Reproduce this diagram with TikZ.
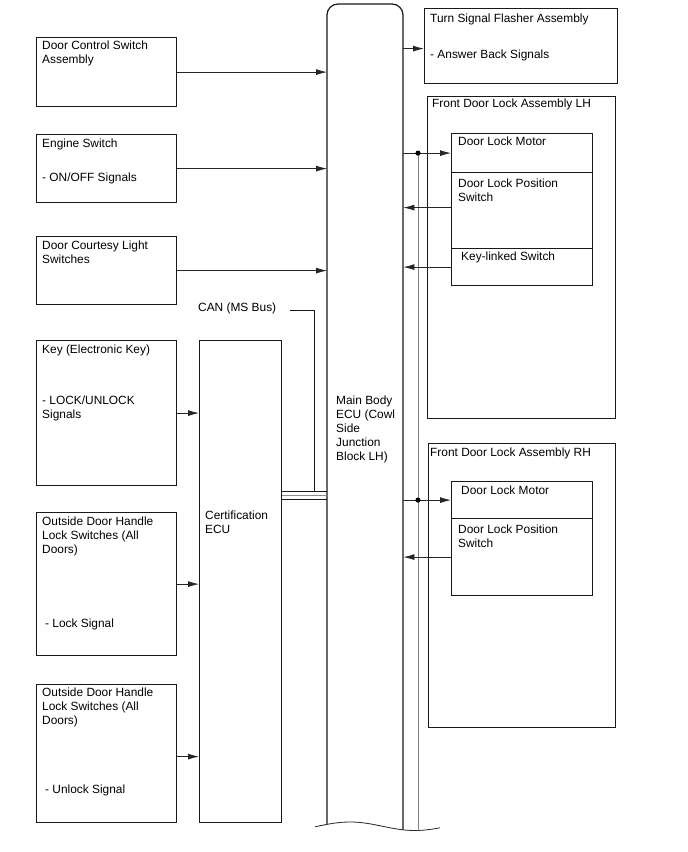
\documentclass[tikz,border=0pt]{standalone}
\usepackage{fontspec}
\setmainfont{Liberation Sans}
\usetikzlibrary{arrows.meta}
\begin{document}
\begin{tikzpicture}[x=1pt,y=-1pt,
  box/.style={draw=black!90, line width=1.2pt, inner sep=0pt, anchor=north west, fill=none},
  txt/.style={anchor=north west, inner sep=0pt, align=left, font=\fontsize{11.9}{14.2}\selectfont, yshift=1pt},
  conn/.style={draw=black!85, line width=0.8pt},
  arr/.style={conn, -{Latex[length=11pt,width=6pt]}},
  busline/.style={draw=black!45, line width=0.8pt},
]
\useasboundingbox[fill=white] (0,0) rectangle (688,852);

% ---------- left boxes ----------
\node[box, minimum width=140pt, minimum height=69pt] (dcs) at (36,37) {};
\node[box, minimum width=140pt, minimum height=68pt] (eng) at (36,134) {};
\node[box, minimum width=140pt, minimum height=68pt] (dcl) at (36,236) {};
\node[box, minimum width=140pt, minimum height=145pt] (key) at (36,340) {};
\node[box, minimum width=140pt, minimum height=143pt] (odh1) at (36,512) {};
\node[box, minimum width=140pt, minimum height=138pt] (odh2) at (36,684) {};
\node[box, minimum width=82pt, minimum height=482pt] (cert) at (199,340) {};

% ---------- right boxes ----------
\node[box, minimum width=193pt, minimum height=75pt] (turn) at (424,8) {};
\node[box, minimum width=188pt, minimum height=322pt] (lh) at (427,96) {};
\node[box, minimum width=141pt, minimum height=39pt] (lhm) at (451,133) {};
\node[box, minimum width=141pt, minimum height=76pt] (lhp) at (451,172) {};
\node[box, minimum width=141pt, minimum height=37pt] (lhk) at (451,248) {};
\node[box, minimum width=187pt, minimum height=284pt] (rh) at (428,443) {};
\node[box, minimum width=141pt, minimum height=37pt] (rhm) at (451,481) {};
\node[box, minimum width=141pt, minimum height=77pt] (rhp) at (451,518) {};

% ---------- main body ECU (rounded top, wavy bottom) ----------
\node[inner sep=0pt, minimum width=76pt, minimum height=826pt, anchor=north west] (ecu) at (327,4) {};
\draw[draw=black!90, line width=1.2pt, rounded corners=11pt] (327,824.4) -- (327,4) -- (403,4) -- (403,829.8);
\draw[conn] plot[domain=315:440, samples=80, smooth] (\x, {826.25-4.25*cos(180*(\x-350)/65)});

% ---------- texts ----------
\node[txt] (t1) at (42,41.5) {Door Control Switch\\Assembly};
\node[txt] (t2) at (42,139.5) {Engine Switch};
\node[txt] (t2b) at (42,173.5) {- ON/OFF Signals};
\node[txt] (t3) at (42,241.5) {Door Courtesy Light\\Switches};
\node[txt] (t4) at (42,345.5) {Key (Electronic Key)};
\node[txt] (t4b) at (42,396.5) {- LOCK/UNLOCK\\Signals};
\node[txt] (t5) at (42,517.5) {Outside Door Handle\\Lock Switches (All\\Doors)};
\node[txt] (t5b) at (45,619.5) {- Lock Signal};
\node[txt] (t6) at (42,688.5) {Outside Door Handle\\Lock Switches (All\\Doors)};
\node[txt] (t6b) at (45,785.5) {- Unlock Signal};
\node[txt] (tc) at (205,511.5) {Certification\\ECU};
\node[txt] (tcan) at (198,303.5) {CAN (MS Bus)};
\node[txt, font=\fontsize{11.9}{14}\selectfont] (tecu) at (336,396.5) {Main Body\\ECU (Cowl\\Side\\Junction\\Block LH)};
\node[txt] (tt) at (430,14.5) {Turn Signal Flasher Assembly};
\node[txt] (ttb) at (430,50.5) {- Answer Back Signals};
\node[txt] (tlh) at (432,99.5) {Front Door Lock Assembly LH};
\node[txt] (tlhm) at (458,137.5) {Door Lock Motor};
\node[txt] (tlhp) at (458,179.5) {Door Lock Position\\Switch};
\node[txt] (tlhk) at (461,252.5) {Key-linked Switch};
\node[txt] (trh) at (430,448.5) {Front Door Lock Assembly RH};
\node[txt] (trhm) at (461,486.5) {Door Lock Motor};
\node[txt] (trhp) at (458,525.5) {Door Lock Position\\Switch};

% ---------- left connectors ----------
\draw[arr] (dcs.east) -- (dcs.east -| ecu.west);
\draw[arr] (eng.east) -- (eng.east -| ecu.west);
\draw[arr] (dcl.east) -- (dcl.east -| ecu.west);
\draw[arr] (key.east) -- (key.east -| cert.west);
\draw[arr] (odh1.east) -- (odh1.east -| cert.west);
\draw[arr] ([yshift=-3pt]odh2.east) -- ([yshift=-3pt]odh2.east -| cert.west);

% ---------- CAN bus ----------
\coordinate (canA) at (290,310);
\coordinate (canB) at (314,310);
\coordinate (canC) at (314,491.5);
\draw[conn, draw=black!90] (canA) -- (canB) -- (canC);
\draw[draw=black!90, line width=1pt] (canC -| cert.east) -- (canC -| ecu.west);
\coordinate (canD) at (314,495.2);
\coordinate (canE) at (314,499);
\draw[busline] (canD -| cert.east) -- (canD -| ecu.west);
\draw[draw=black!90, line width=1pt] (canE -| cert.east) -- (canE -| ecu.west);

% ---------- right connectors ----------
\draw[arr] ([yshift=-2.5pt]turn.west -| ecu.east) -- ([yshift=-2.5pt]turn.west);
\coordinate (dotL) at (418,0);
\coordinate (d1) at (dotL |- lhm.west);
\coordinate (d2) at (dotL |- rhm.west);
\coordinate (gEnd) at (418,830.5);
\draw[draw=black!50, line width=0.8pt] (d1) -- (gEnd);
\draw[arr] (lhm.west -| ecu.east) -- (lhm.west);
\draw[arr] (rhm.west -| ecu.east) -- (rhm.west);
\fill[black] (d1) circle (2.6pt);
\fill[black] (d2) circle (2.6pt);
\draw[arr] ([yshift=3pt]lhp.west) -- ([yshift=3pt]lhp.west -| ecu.east);
\draw[arr] (lhk.west) -- (lhk.west -| ecu.east);
\draw[arr] (rhp.west) -- (rhp.west -| ecu.east);
\end{tikzpicture}
\end{document}
